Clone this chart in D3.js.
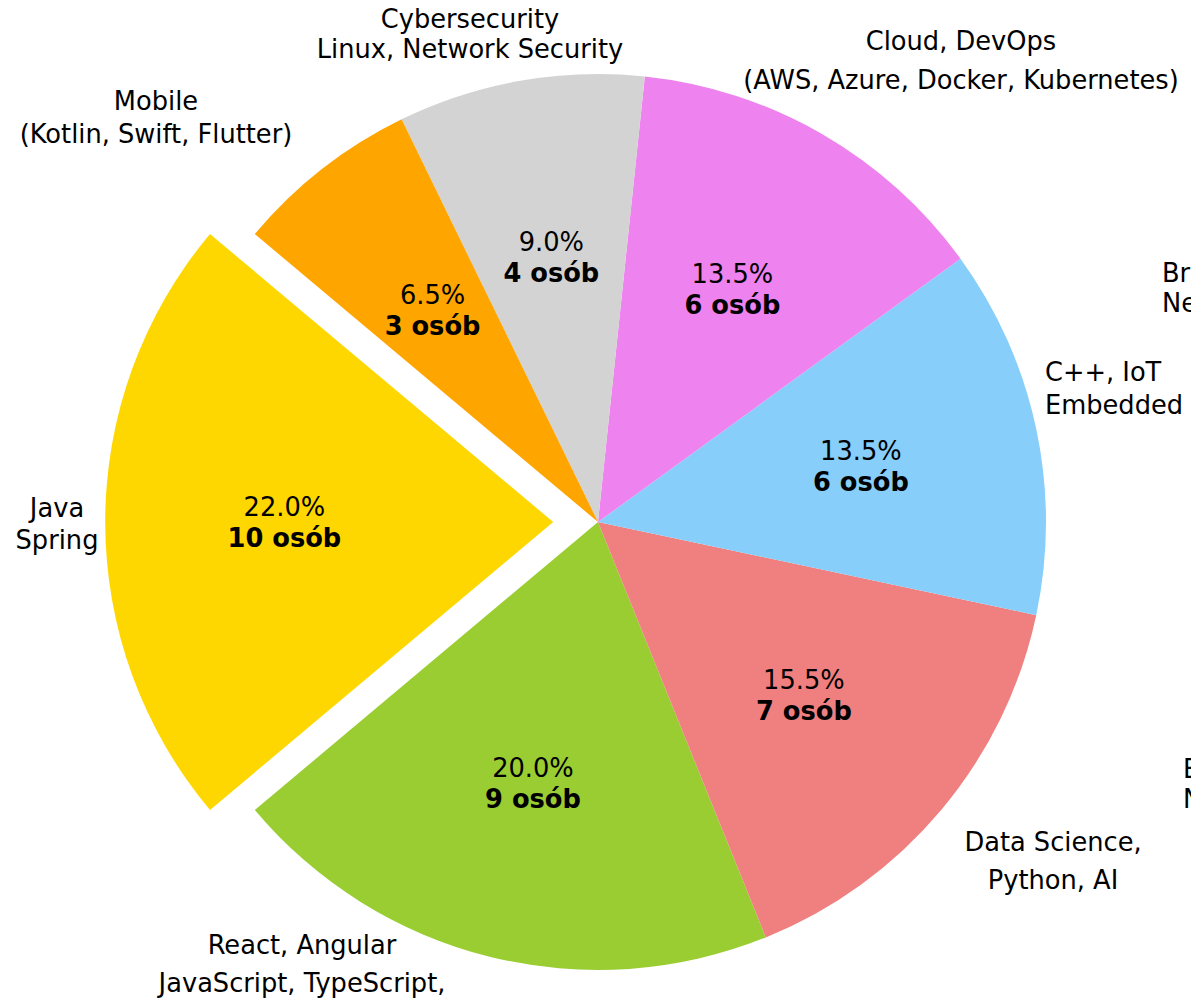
<!DOCTYPE html>
<html>
<head>
<meta charset="utf-8">
<script src="https://cdn.jsdelivr.net/npm/d3@7/dist/d3.min.js"></script>
<style>
    body { margin: 0; background: #fff; overflow: hidden; }
    text { font-family: "DejaVu Sans", sans-serif; fill: #000; }
</style>
</head>
<body>
<div id="wrapper"></div>
<script>
// data, counterclockwise from the Java slice
const categories = [
    "Java\nSpring",
    "React, Angular\nJavaScript, TypeScript,",
    "Data Science,\nPython, AI",
    "C++, IoT\nEmbedded",
    "Cloud, DevOps\n(AWS, Azure, Docker, Kubernetes)",
    "Cybersecurity\nLinux, Network Security",
    "Mobile\n(Kotlin, Swift, Flutter)"
];
const people = [10, 9, 7, 6, 6, 4, 3];
// percentages as printed on the wedges
const percents = [22.0, 20.0, 15.5, 13.5, 13.5, 9.0, 6.5];
const colors = ["#FFD700", "#9ACD32", "#F08080", "#87CEFA", "#EE82EE", "#D3D3D3", "#FFA500"];
const explode = [0.1, 0, 0, 0, 0, 0, 0];
// texts that run off the right edge of the picture
const cutTexts = ["Br\nNe", "E\nN"];

function drawPie() {
    const width = 1191
    const height = 999
    const cx = 598
    const cy = 522
    const radius = 448
    const fontSize = 25.7

    // label placement (page coords): x, line centres, anchor
    const labelLayout = [
        { x: 57, ys: [508, 540], anchor: "middle" },
        { x: 302, ys: [945, 983], anchor: "middle" },
        { x: 1053, ys: [842, 880], anchor: "middle" },
        { x: 1045, ys: [372, 405], anchor: "start" },
        { x: 961, ys: [41, 80], anchor: "middle" },
        { x: 470, ys: [19, 49], anchor: "middle" },
        { x: 156, ys: [101, 134], anchor: "middle" },
    ];
    const cutLayout = [
        { x: 1162, ys: [273, 303], anchor: "start" },
        { x: 1183, ys: [769, 799], anchor: "start" },
    ];

    const svg = d3.select("#wrapper")
        .html("")
        .append("svg")
        .attr("width", width)
        .attr("height", height);

    const bounds = svg.append("g")
        .attr("transform", `translate(${cx},${cy})`);

    // matplotlib style: startangle 140, counterclockwise
    const start = (90 - 140) * Math.PI / 180;
    const pie = d3.pie()
        .sort(null)
        .value(d => d)
        .startAngle(start)
        .endAngle(start - 2 * Math.PI);

    const arcs = pie(people);

    const arc = d3.arc()
        .innerRadius(0)
        .outerRadius(radius);

    const pctArc = d3.arc()
        .innerRadius(radius * 0.6)
        .outerRadius(radius * 0.6);

    const offset = (d, i) => {
        const mid = (d.startAngle + d.endAngle) / 2;
        const k = explode[i] * radius;
        return [Math.sin(mid) * k, -Math.cos(mid) * k];
    };

    const slices = bounds.selectAll("g.slice")
        .data(arcs)
        .enter()
        .append("g")
        .attr("class", "slice")
        .attr("transform", (d, i) => `translate(${offset(d, i)})`);

    slices.append("path")
        .attr("d", arc)
        .attr("fill", (d, i) => colors[i]);

    // percentage + count inside wedges
    slices.each(function (d, i) {
        const [x, y] = pctArc.centroid(d);
        const g = d3.select(this);
        g.append("text")
            .attr("x", x)
            .attr("y", y - 15)
            .attr("text-anchor", "middle")
            .attr("dominant-baseline", "central")
            .attr("font-size", fontSize + "px")
            .text(percents[i].toFixed(1) + "%");
        g.append("text")
            .attr("x", x)
            .attr("y", y + 16)
            .attr("text-anchor", "middle")
            .attr("dominant-baseline", "central")
            .attr("font-size", fontSize + "px")
            .attr("font-weight", "bold")
            .text(people[i] + " osób");
    });

    // outer labels
    const drawLabel = (txt, lay) => {
        const t = svg.append("text")
            .attr("text-anchor", lay.anchor)
            .attr("dominant-baseline", "central")
            .attr("font-size", fontSize + "px");
        txt.split("\n").forEach((line, j) => {
            t.append("tspan")
                .attr("x", lay.x)
                .attr("y", lay.ys[j])
                .text(line);
        });
    };
    categories.forEach((c, i) => drawLabel(c, labelLayout[i]));
    cutTexts.forEach((c, i) => drawLabel(c, cutLayout[i]));
}

drawPie();
</script>
</body>
</html>
